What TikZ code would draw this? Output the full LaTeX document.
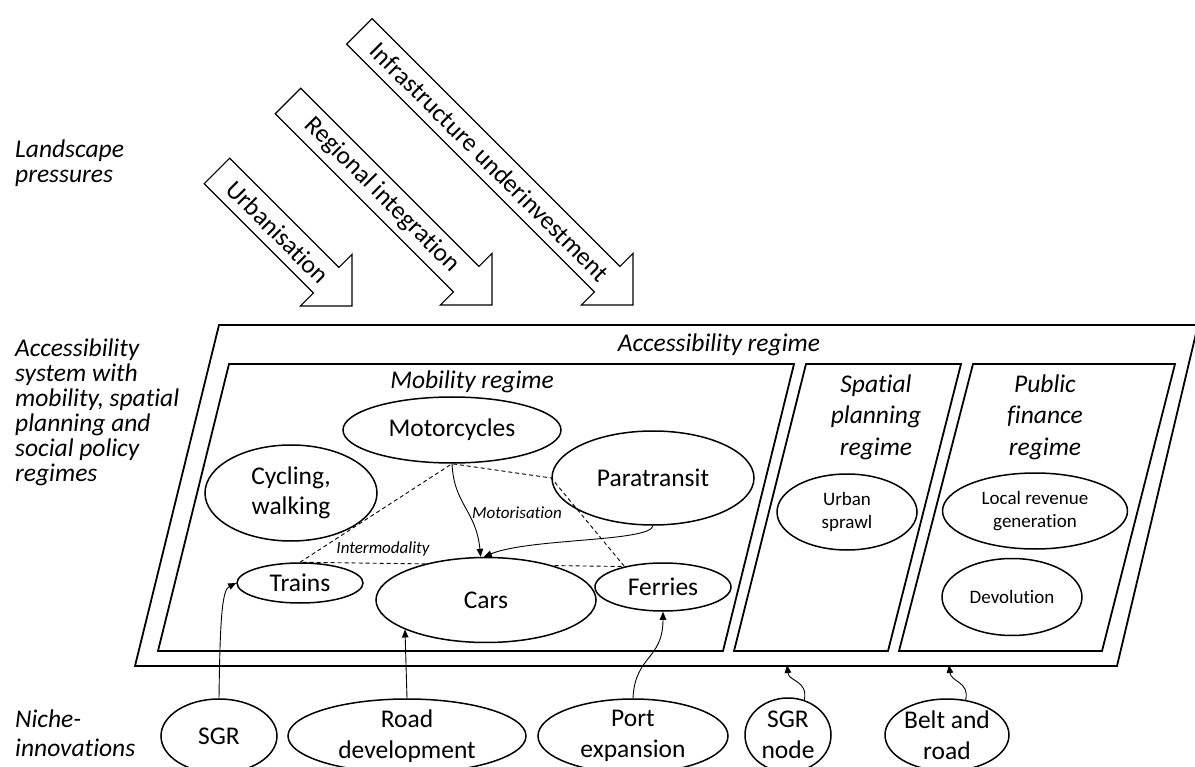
\documentclass[tikz,border=0pt]{standalone}
\usepackage{fontspec}
\setmainfont{Carlito}[Ligatures=NoCommon]
\usetikzlibrary{shapes.geometric,arrows.meta,backgrounds}
\begin{document}
\begin{tikzpicture}[x=1pt,y=-1pt,
  box/.style={line width=1.8pt, line join=miter},
  ell/.style={ellipse, draw, line width=1.5pt, inner sep=0pt, align=center},
  big/.style={font=\fontsize{25.5}{30.5}\selectfont},
  small/.style={font=\fontsize{19}{23}\selectfont},
  lab/.style={font=\fontsize{17}{20}\selectfont\itshape, inner sep=0pt},
  side/.style={font=\fontsize{25.5}{25}\selectfont\itshape, align=left, inner sep=0pt, anchor=west},
  regtitle/.style={font=\fontsize{25.5}{31.5}\selectfont\itshape, align=center, inner sep=0pt},
  link/.style={line width=0.9pt, -{Triangle[length=8pt,width=6.5pt]}},
  rel/.style={line width=0.9pt, dash pattern=on 4pt off 3pt},
  blk/.style={draw, line width=1.2pt, line join=miter},
]
\useasboundingbox (0,0) rectangle (1195,767);

% landscape pressure arrows
\begin{scope}[shift={(352,306)}, rotate=-45]
  \draw[blk] (-191,18) -- (-36.5,18) -- (-36.5,36.5) -- (0,0) -- (-36.5,-36.5) -- (-36.5,-18) -- (-191,-18) -- cycle;
  \node[big, transform shape, inner sep=0pt] (urb) at (-104.6,0) {Urbanisation};
\end{scope}
\begin{scope}[shift={(492,305)}, rotate=-45]
  \draw[blk] (-288.5,18) -- (-36.5,18) -- (-36.5,36.5) -- (0,0) -- (-36.5,-36.5) -- (-36.5,-18) -- (-288.5,-18) -- cycle;
  \node[big, transform shape, inner sep=0pt] (reg) at (-155.6,0) {Regional integration};
\end{scope}
\begin{scope}[shift={(633,305)}, rotate=-45]
  \draw[blk] (-387,18) -- (-36.5,18) -- (-36.5,36.5) -- (0,0) -- (-36.5,-36.5) -- (-36.5,-18) -- (-387,-18) -- cycle;
  \node[big, transform shape, inner sep=0pt] (infra) at (-202.6,0) {Infrastructure underinvestment};
\end{scope}

% side labels
\node[side] (land) at (15,163.5) {Landscape\\pressures};
\node[side] (accsys) at (15,412) {Accessibility\\system with\\mobility, spatial\\planning and\\social policy\\regimes};
\node[side, font=\fontsize{25.5}{29}\selectfont\itshape] (niche) at (15,733) {Niche-\\innovations};

% regime boxes
\draw[box] (219,325) -- (1198,325) -- (1117,666) -- (135,666) -- cycle;
\draw[box] (229,364) -- (794,364) -- (723,651) -- (158,651) -- cycle;
\draw[box] (806,364) -- (961,364) -- (888,651) -- (734,651) -- cycle;
\draw[box] (973,364) -- (1175,364) -- (1102,651) -- (899,651) -- cycle;

\node[big, font=\fontsize{25.5}{30.5}\selectfont\itshape, anchor=base] (accreg) at (719,352) {Accessibility regime};
\node[big, font=\fontsize{25.5}{30.5}\selectfont\itshape, anchor=base] (mobreg) at (472,389) {Mobility regime};
\node[regtitle] (spreg) at (876,417) {Spatial\\planning\\regime};
\node[regtitle] (pfreg) at (1045,417) {Public\\finance\\regime};

% mobility regime nodes
\node[ell, big, minimum width=218pt, minimum height=66pt] (moto) at (452,430) {Motorcycles};
\node[ell, big, minimum width=172pt, minimum height=96pt] (cyc) at (291,493) {Cycling,\\walking};
\node[ell, big, minimum width=202pt, minimum height=94pt] (para) at (653,478) {Paratransit};
\node[ell, big, minimum width=126pt, minimum height=40pt] (trains) at (300,583) {Trains};
\node[ell, big, minimum width=220pt, minimum height=85pt, fill=white] (cars) at (486,600) {Cars};
\node[ell, big, minimum width=136pt, minimum height=48pt] (ferries) at (663,587) {Ferries};

% other regimes
\node[ell, small, minimum width=140pt, minimum height=76pt] (sprawl) at (847,512) {Urban\\sprawl};
\node[ell, small, minimum width=185pt, minimum height=76pt] (revenue) at (1035,511) {Local revenue\\generation};
\node[ell, small, minimum width=140pt, minimum height=77pt] (devol) at (1012,597) {Devolution};

% niche innovations
\node[ell, big, minimum width=116pt, minimum height=74pt] (sgr) at (219,736) {SGR};
\node[ell, big, minimum width=238pt, minimum height=74pt] (road) at (407,736) {Road\\development};
\node[ell, big, minimum width=190pt, minimum height=74pt] (port) at (633,736) {Port\\expansion};
\node[ell, big, minimum width=86pt, minimum height=74pt] (sgrnode) at (788,735) {SGR\\node};
\node[ell, big, minimum width=124pt, minimum height=72pt] (belt) at (947,735) {Belt and\\road};

% relations
\begin{scope}[on background layer]
  \draw[rel] (trains.north) -- (moto.south) -- (para.west) -- (ferries.152) -- cycle;
\end{scope}
\node[lab] (intermod) at (383,549) {Intermodality};
\node[lab] (motoris) at (517,513) {Motorisation};

\draw[link] (moto.south) .. controls (454,505) and (476,510) .. (cars.97);
\draw[link] (para.south) .. controls (650,542) and (530,538) .. (cars.93);
\draw[link] (sgr.north) .. controls (220,620) and (222,590) .. (trains.west);
\draw[link] (road.north) -- (cars.200);
\draw[link] (port.north) .. controls (635,655) and (663,660) .. (ferries.south);
\coordinate (sgrtip) at (787,665);
\coordinate (belttip) at (949,665);
\draw[link] (sgrnode.65) .. controls (808,680) and (789,682) .. (sgrtip);
\draw[link] (belt.62) .. controls (970,682) and (951,682) .. (belttip);
\end{tikzpicture}
\end{document}
